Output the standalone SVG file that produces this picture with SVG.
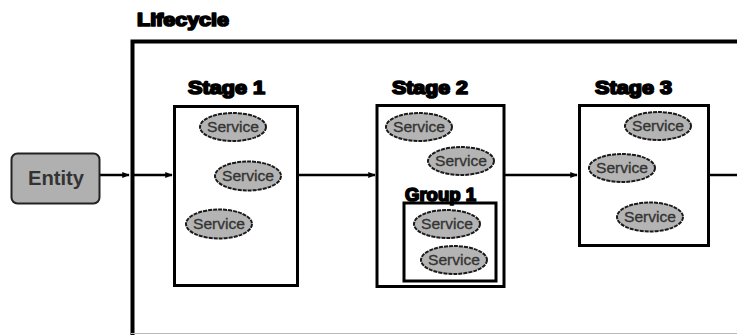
<svg xmlns="http://www.w3.org/2000/svg" width="737" height="335" viewBox="0 0 737 335">
  <style>
    .frame { fill: none; stroke: #000; stroke-width: 4; }
    .stage { fill: #fff; stroke: #000; stroke-width: 3; }
    .title { font-family: "Liberation Sans", Arial, sans-serif; font-weight: bold; font-size: 18px; fill: #000; stroke: #000; stroke-width: 1.7; stroke-linejoin: round; }
    .svc ellipse { fill: #b4b4b4; stroke: #1a1a1a; stroke-width: 2; stroke-dasharray: 4 1; }
    .svc text { font-family: "Liberation Sans", Arial, sans-serif; font-size: 14px; fill: #333; stroke: #333; stroke-width: 0.3; text-anchor: middle; }
    .entity rect { fill: #b0b0b0; stroke: #222; stroke-width: 2; }
    .entity text { font-family: "Liberation Sans", Arial, sans-serif; font-weight: bold; font-size: 20px; fill: #333; text-anchor: middle; }
    .link { fill: none; stroke: #000; stroke-width: 2.5; }
  </style>
  <defs>
    <marker id="tip" viewBox="0 0 10 10" refX="9" refY="5" markerWidth="3" markerHeight="3" orient="auto" markerUnits="strokeWidth">
      <path d="M0,1 L10,5 L0,9 z" fill="#000"/>
    </marker>
  </defs>

  <rect width="737" height="335" fill="#fff"/>

  <!-- lifecycle container -->
  <g id="lifecycle">
    <path class="frame" d="M132.5,335 V41.5 H737"/>
    <line x1="131" y1="333.5" x2="737" y2="333.5" stroke="#bbb" stroke-width="1"/>
    <text class="title" x="137" y="26" textLength="92" lengthAdjust="spacingAndGlyphs">Lifecycle</text>
  </g>

  <!-- connectors -->
  <g id="connectors">
    <line class="link" x1="100" y1="175" x2="129" y2="175" marker-end="url(#tip)"/>
    <line class="link" x1="134" y1="175" x2="172" y2="175" marker-end="url(#tip)"/>
    <line class="link" x1="299" y1="175" x2="375" y2="175" marker-end="url(#tip)"/>
    <line class="link" x1="505" y1="175" x2="577" y2="175" marker-end="url(#tip)"/>
    <line class="link" x1="710" y1="175" x2="737" y2="175"/>
  </g>

  <!-- entity -->
  <g id="entity" class="entity">
    <rect x="11.5" y="153.5" width="88" height="50" rx="6"/>
    <text x="56" y="185" textLength="56" lengthAdjust="spacingAndGlyphs">Entity</text>
  </g>

  <!-- stage 1 -->
  <g id="stage1">
    <text class="title" x="188" y="94" textLength="77" lengthAdjust="spacingAndGlyphs">Stage 1</text>
    <rect class="stage" x="174.5" y="106.5" width="123" height="179"/>
    <g class="svc"><ellipse cx="233" cy="127" rx="33" ry="14"/><text x="233" y="132" textLength="52" lengthAdjust="spacingAndGlyphs">Service</text></g>
    <g class="svc"><ellipse cx="248" cy="176" rx="33" ry="14.5"/><text x="248" y="181" textLength="52" lengthAdjust="spacingAndGlyphs">Service</text></g>
    <g class="svc"><ellipse cx="219" cy="224" rx="33" ry="14.5"/><text x="219" y="229" textLength="52" lengthAdjust="spacingAndGlyphs">Service</text></g>
  </g>

  <!-- stage 2 -->
  <g id="stage2">
    <text class="title" x="392" y="94" textLength="76" lengthAdjust="spacingAndGlyphs">Stage 2</text>
    <rect class="stage" x="377" y="105.5" width="127" height="181"/>
    <g class="svc"><ellipse cx="419" cy="127" rx="33" ry="14"/><text x="419" y="132" textLength="52" lengthAdjust="spacingAndGlyphs">Service</text></g>
    <g class="svc"><ellipse cx="461" cy="161" rx="33" ry="14"/><text x="461" y="166" textLength="52" lengthAdjust="spacingAndGlyphs">Service</text></g>
    <g id="group1">
      <rect class="stage" x="404" y="203" width="92" height="78"/>
      <text class="title" x="405" y="201" textLength="71" lengthAdjust="spacingAndGlyphs">Group 1</text>
      <g class="svc"><ellipse cx="447" cy="224" rx="33" ry="14"/><text x="447" y="229" textLength="52" lengthAdjust="spacingAndGlyphs">Service</text></g>
      <g class="svc"><ellipse cx="454" cy="260" rx="33" ry="14"/><text x="454" y="265" textLength="52" lengthAdjust="spacingAndGlyphs">Service</text></g>
    </g>
  </g>

  <!-- stage 3 -->
  <g id="stage3">
    <text class="title" x="595" y="94" textLength="77" lengthAdjust="spacingAndGlyphs">Stage 3</text>
    <rect class="stage" x="579.5" y="105.5" width="129" height="140"/>
    <g class="svc"><ellipse cx="658" cy="126" rx="33" ry="14"/><text x="658" y="131" textLength="52" lengthAdjust="spacingAndGlyphs">Service</text></g>
    <g class="svc"><ellipse cx="622" cy="168" rx="33" ry="14"/><text x="622" y="173" textLength="52" lengthAdjust="spacingAndGlyphs">Service</text></g>
    <g class="svc"><ellipse cx="650" cy="217" rx="33" ry="14.5"/><text x="650" y="222" textLength="52" lengthAdjust="spacingAndGlyphs">Service</text></g>
  </g>
</svg>
